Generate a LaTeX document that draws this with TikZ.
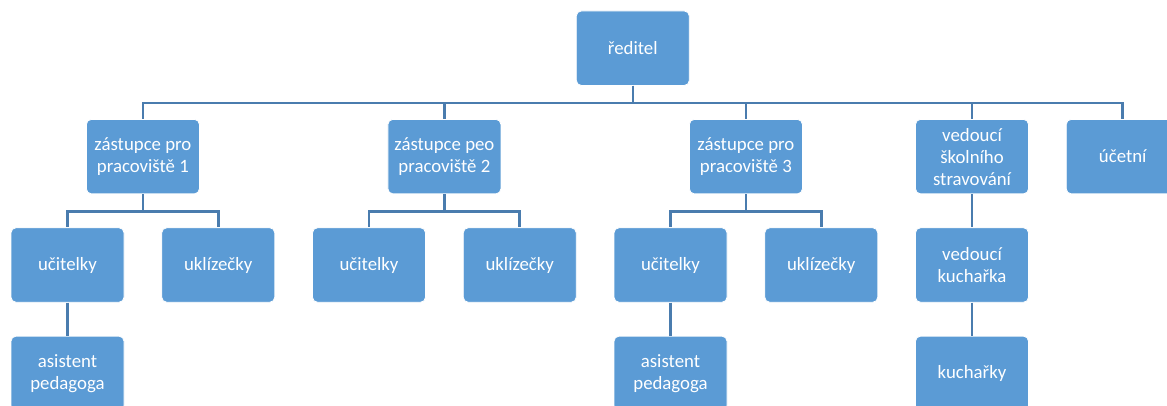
\documentclass[tikz,border=0pt]{standalone}
\usepackage{fontspec}
\setmainfont{Carlito}
\definecolor{boxfill}{HTML}{5B9BD5}
\definecolor{linecol}{HTML}{4A7CAE}
\tikzset{
  orgbox/.style={draw=white, line width=0.8pt, fill=boxfill, rounded corners=5pt,
    minimum width=113pt, minimum height=74.5pt, inner sep=2pt,
    text=white, align=center, font=\fontsize{18.8}{22}\selectfont},
  conn/.style={draw=linecol, line width=2.6pt},
}
\begin{document}
\begin{tikzpicture}[x=1pt, y=-1pt]
\clip (0,0) rectangle (1167,405);
\fill[white] (0,0) rectangle (1167,405);

% level 1
\node[orgbox] (red) at (632.8,48.2) {ředitel};

% level 2
\node[orgbox] (z1) at (142.9,156.6) {zástupce pro\\pracoviště 1};
\node[orgbox] (z2) at (444.4,156.6) {zástupce peo\\pracoviště 2};
\node[orgbox] (z3) at (745.9,156.6) {zástupce pro\\pracoviště 3};
\node[orgbox] (ved) at (972.0,156.6) {vedoucí\\školního\\stravování};
\node[orgbox] (uct) at (1122.75,156.6) {účetní};

% level 3
\node[orgbox] (uc1) at (67.5,265) {učitelky};
\node[orgbox] (uk1) at (218.25,265) {uklízečky};
\node[orgbox] (uc2) at (369.0,265) {učitelky};
\node[orgbox] (uk2) at (519.75,265) {uklízečky};
\node[orgbox] (uc3) at (670.5,265) {učitelky};
\node[orgbox] (uk3) at (821.25,265) {uklízečky};
\node[orgbox] (vk) at (972.0,265) {vedoucí\\kuchařka};

% level 4
\node[orgbox] (as1) at (67.5,373.4) {asistent\\pedagoga};
\node[orgbox] (as3) at (670.5,373.4) {asistent\\pedagoga};
\node[orgbox] (ku) at (972.0,373.4) {kuchařky};

% connectors
\foreach \c in {z1,z2,z3,ved,uct}
  \draw[conn] (red.south) -- ++(0,17) -| (\c.north);
\foreach \p/\c in {z1/uc1,z1/uk1,z2/uc2,z2/uk2,z3/uc3,z3/uk3}
  \draw[conn] (\p.south) -- ++(0,17) -| (\c.north);
\draw[conn] (ved.south) -- (vk.north);
\draw[conn] (uc1.south) -- (as1.north);
\draw[conn] (uc3.south) -- (as3.north);
\draw[conn] (vk.south) -- (ku.north);
\end{tikzpicture}
\end{document}
